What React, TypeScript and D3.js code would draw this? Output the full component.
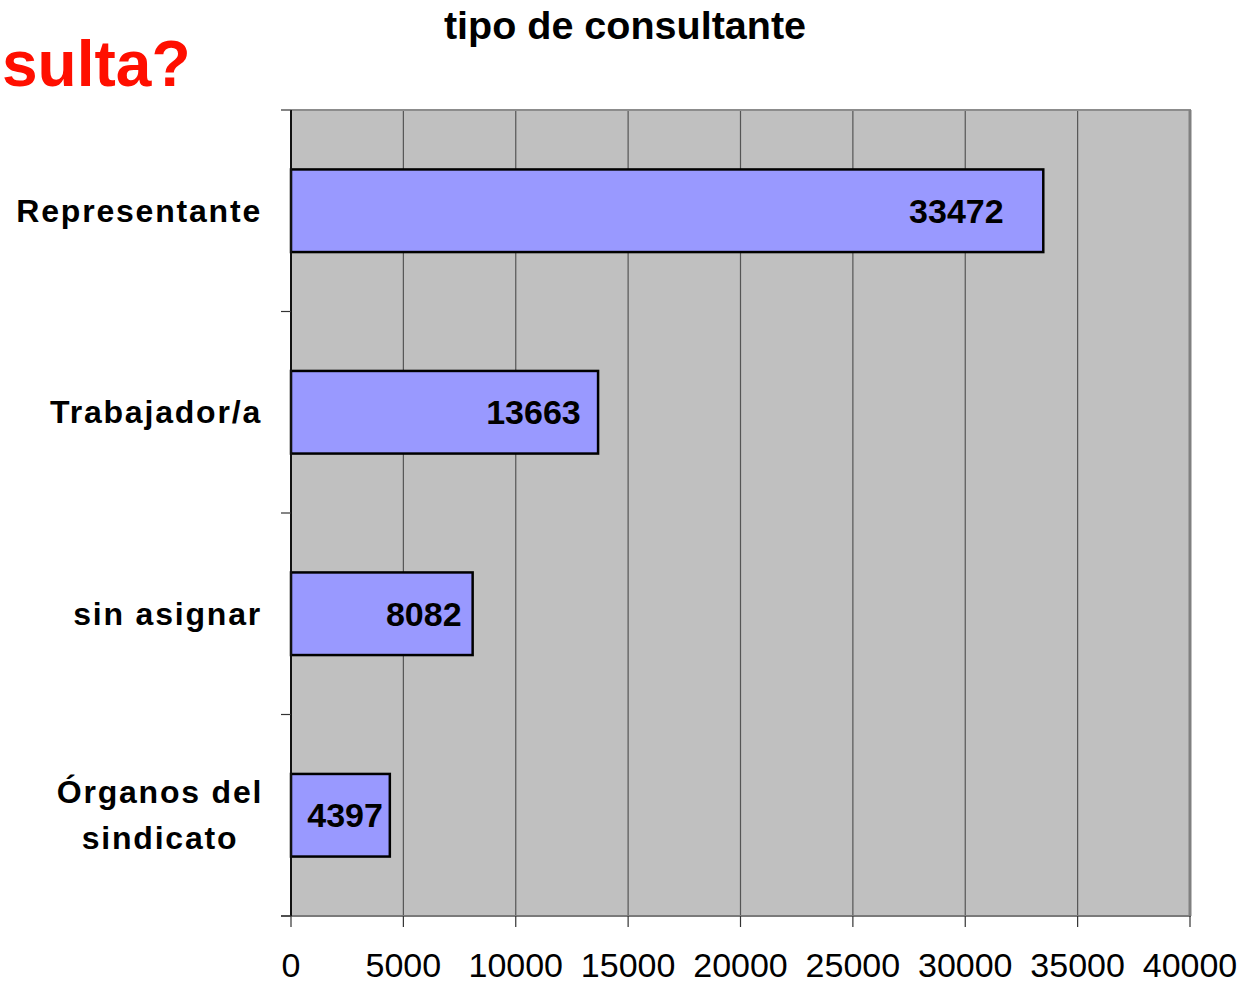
import { range, scaleBand, scaleLinear } from "d3";

const WIDTH = 1248;
const HEIGHT = 984;

const categories = ["Representante", "Trabajador/a", "sin asignar", "Órganos del\nsindicato"];
const counts = [33472, 13663, 8082, 4397];
const xTicks = [0, 5000, 10000, 15000, 20000, 25000, 30000, 35000, 40000];

const TITLE = "tipo de consultante";
const CUT_HEADING = "sulta?";

const FONT = "'Liberation Sans', Arial, sans-serif";

const PLOT = { left: 291, right: 1190, top: 110, bottom: 916 };
const LABEL_RIGHT = 262;

function App() {
  const x = scaleLinear().domain([0, 40000]).range([PLOT.left, PLOT.right]);
  const y = scaleBand<string>()
    .domain(categories)
    .range([PLOT.top, PLOT.bottom])
    .paddingInner(0.59)
    .paddingOuter(0.295);
  const step = y.step();
  const bandEdges = range(categories.length + 1).map((i) => PLOT.top + i * step);

  return (
    <div style={{ position: "absolute", left: 0, top: 0 }}>
      <svg width={WIDTH} height={HEIGHT} style={{ display: "block", fontFamily: FONT }}>
        <rect width={WIDTH} height={HEIGHT} fill="#ffffff" />

        <text x={2} y={86} fill="#ff0f00" fontSize={64} fontWeight="bold">
          {CUT_HEADING}
        </text>
        <text x={625} y={39} textAnchor="middle" fontSize={39.5} fontWeight="bold" fill="#000">
          {TITLE}
        </text>

        {/* plot background and grid */}
        <rect
          x={PLOT.left}
          y={PLOT.top}
          width={PLOT.right - PLOT.left}
          height={PLOT.bottom - PLOT.top}
          fill="#c0c0c0"
        />
        {xTicks.slice(1, -1).map((t) => (
          <line key={t} x1={x(t)} x2={x(t)} y1={PLOT.top} y2={PLOT.bottom} stroke="#555" strokeWidth={1.2} />
        ))}
        <line x1={PLOT.left} x2={PLOT.right + 1} y1={PLOT.top} y2={PLOT.top} stroke="#8c8c8c" strokeWidth={2} />
        <line x1={PLOT.right} x2={PLOT.right} y1={PLOT.top} y2={PLOT.bottom} stroke="#808080" strokeWidth={3} />

        {/* bars */}
        {categories.map((c, i) => (
          <rect
            key={c}
            x={x(0)}
            y={y(c)}
            width={x(counts[i]) - x(0)}
            height={y.bandwidth()}
            fill="#9999ff"
            stroke="#000"
            strokeWidth={2.5}
          />
        ))}
        {/* value labels sit inside the bar end, a little further in on long bars */}
        {categories.map((c, i) => (
          <text
            key={c}
            x={x(counts[i] * 0.95) - 2}
            y={(y(c) ?? 0) + y.bandwidth() / 2 + 12}
            textAnchor="end"
            fontSize={34}
            fontWeight="bold"
            fill="#000"
          >
            {counts[i]}
          </text>
        ))}

        {/* x axis */}
        <line x1={PLOT.left - 10} x2={PLOT.right + 1} y1={PLOT.bottom} y2={PLOT.bottom} stroke="#7a7a7a" strokeWidth={2} />
        {xTicks.map((t) => (
          <g key={t}>
            <line x1={x(t)} x2={x(t)} y1={PLOT.bottom} y2={PLOT.bottom + 11} stroke="#333" strokeWidth={1.2} />
            <text x={x(t)} y={977} textAnchor="middle" fontSize={34} fill="#000">
              {t}
            </text>
          </g>
        ))}

        {/* y axis */}
        <line x1={PLOT.left} x2={PLOT.left} y1={PLOT.top} y2={PLOT.bottom} stroke="#111" strokeWidth={2} />
        {bandEdges.map((e, i) => (
          <line key={i} x1={PLOT.left - 10} x2={PLOT.left} y1={e} y2={e} stroke="#333" strokeWidth={1.2} />
        ))}
        {categories.map((c) => {
          const lines = c.split("\n");
          const mid = (y(c) ?? 0) + y.bandwidth() / 2 + 11;
          const multi = lines.length > 1;
          const lx = multi ? LABEL_RIGHT - 102 : LABEL_RIGHT;
          return (
            <text
              key={c}
              x={lx}
              textAnchor={multi ? "middle" : "end"}
              fontSize={32}
              fontWeight="bold"
              letterSpacing={1.8}
              fill="#000"
            >
              {lines.map((l, j) => (
                <tspan key={j} x={lx} y={mid + (j - (lines.length - 1) / 2) * 46}>
                  {l}
                </tspan>
              ))}
            </text>
          );
        })}
      </svg>
    </div>
  );
}

export default App;
